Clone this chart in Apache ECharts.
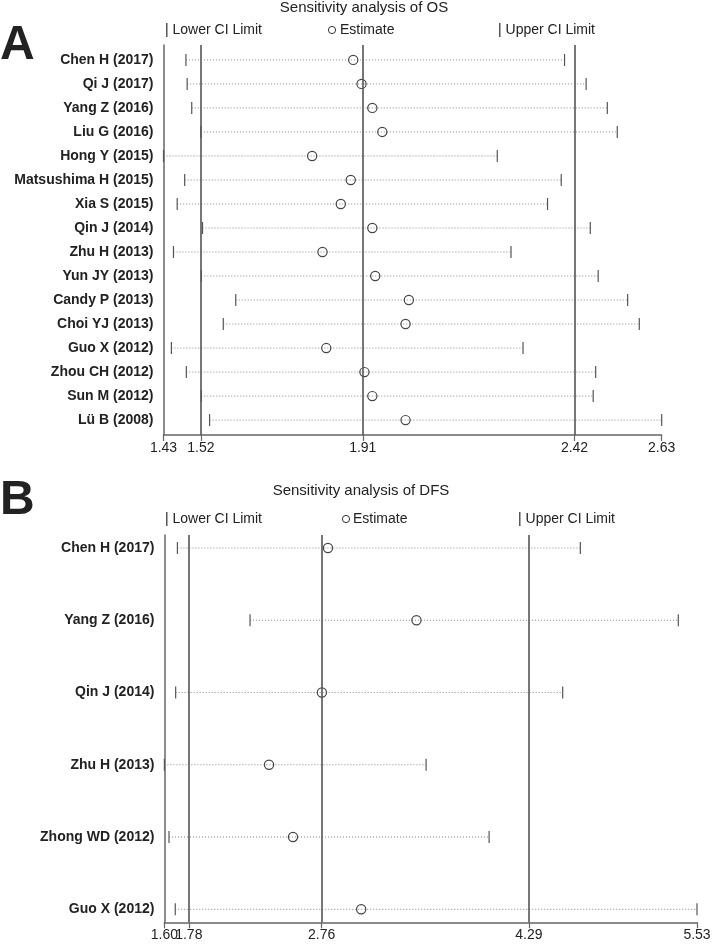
<!DOCTYPE html>
<html>
<head>
<meta charset="utf-8">
<script src="https://cdn.jsdelivr.net/npm/echarts@6/dist/echarts.min.js"></script>
<style>
html,body{margin:0;padding:0;background:#fff;}
#chart{width:716px;height:944px;}
</style>
</head>
<body>
<div id="chart"></div>
<script>
// ---- Panel A: OS ----
var osStudies = ['Chen H (2017)','Qi J (2017)','Yang Z (2016)','Liu G (2016)','Hong Y (2015)','Matsushima H (2015)','Xia S (2015)','Qin J (2014)','Zhu H (2013)','Yun JY (2013)','Candy P (2013)','Choi YJ (2013)','Guo X (2012)','Zhou CH (2012)','Sun M (2012)','Lü B (2008)'];
var osLower = [1.484,1.487,1.498,1.520,1.430,1.481,1.463,1.524,1.454,1.521,1.604,1.574,1.449,1.485,1.521,1.541];
var osEst   = [1.887,1.907,1.933,1.957,1.788,1.881,1.857,1.933,1.813,1.940,2.021,2.013,1.822,1.914,1.933,2.013];
var osUpper = [2.396,2.448,2.499,2.523,2.234,2.388,2.355,2.458,2.267,2.477,2.548,2.576,2.296,2.471,2.465,2.630];
var osOverall = [1.52, 1.91, 2.42];
var osTicks = [1.43, 1.52, 1.91, 2.42, 2.63];

// ---- Panel B: DFS ----
var dfsStudies = ['Chen H (2017)','Yang Z (2016)','Qin J (2014)','Zhu H (2013)','Zhong WD (2012)','Guo X (2012)'];
var dfsLower = [1.696,2.232,1.683,1.600,1.634,1.680];
var dfsEst   = [2.807,3.460,2.762,2.372,2.549,3.052];
var dfsUpper = [4.669,5.392,4.539,3.531,3.996,5.530];
var dfsOverall = [1.78, 2.76, 4.29];
var dfsTicks = [1.60, 1.78, 2.76, 4.29, 5.53];

var FONT = '"Liberation Sans", Arial, sans-serif';

function rows(lower, est, upper) {
  return lower.map(function (l, i) { return [i, l, est[i], upper[i]]; });
}

function renderCI(params, api) {
  var r = api.value(0);
  var p0 = api.coord([api.value(1), r]);
  var pe = api.coord([api.value(2), r]);
  var p1 = api.coord([api.value(3), r]);
  var h = 6;
  return {
    type: 'group',
    children: [
      { type: 'line', shape: { x1: p0[0], y1: p0[1], x2: p1[0], y2: p1[1] },
        style: { stroke: '#888', lineWidth: 1, lineDash: [1, 2] } },
      { type: 'line', shape: { x1: p0[0], y1: p0[1] - h, x2: p0[0], y2: p0[1] + h },
        style: { stroke: '#555', lineWidth: 1.2 } },
      { type: 'line', shape: { x1: p1[0], y1: p1[1] - h, x2: p1[0], y2: p1[1] + h },
        style: { stroke: '#555', lineWidth: 1.2 } },
      { type: 'circle', shape: { cx: pe[0], cy: pe[1], r: 4.6 },
        style: { fill: 'rgba(0,0,0,0)', stroke: '#444', lineWidth: 1.2 } }
    ]
  };
}

function fmt(v) { return Number(v).toFixed(2); }

// main x axis: line + all ticks + the given labels
function xAxisDef(gi, ticks, labels) {
  return {
    type: 'value', gridIndex: gi, position: 'bottom',
    min: ticks[0], max: ticks[ticks.length - 1],
    axisLine: { show: true, onZero: false, lineStyle: { color: '#666', width: 1.5 } },
    axisTick: { show: true, length: 6, customValues: ticks, lineStyle: { color: '#666', width: 1.2 } },
    axisLabel: { show: true, customValues: labels, margin: 6, color: '#222',
      fontSize: 14, fontFamily: FONT, hideOverlap: false, formatter: fmt },
    splitLine: { show: false }
  };
}
// label-only overlay axis (so touching labels are both kept)
function xLabelAxis(gi, ticks, labels) {
  return {
    type: 'value', gridIndex: gi, position: 'bottom',
    min: ticks[0], max: ticks[ticks.length - 1],
    axisLine: { show: false, onZero: false },
    axisTick: { show: false },
    axisLabel: { show: true, customValues: labels, margin: 6, color: '#222',
      fontSize: 14, fontFamily: FONT, formatter: fmt },
    splitLine: { show: false }
  };
}

function yAxisDef(gi, names, pad) {
  var idx = names.map(function (n, i) { return i; });
  return {
    type: 'value', gridIndex: gi, inverse: true, position: 'left',
    min: -pad, max: names.length - 1 + pad,
    axisLine: { show: true, onZero: false, lineStyle: { color: '#666', width: 1.5 } },
    axisTick: { show: false },
    axisLabel: { show: true, customValues: idx, margin: 10, color: '#222',
      fontSize: 14, fontWeight: 'bold', fontFamily: FONT, hideOverlap: false,
      formatter: function (v) { return names[Math.round(v)]; } },
    splitLine: { show: false }
  };
}

function markLines(vals) {
  return {
    silent: true, symbol: 'none', label: { show: false },
    lineStyle: { color: '#555', width: 1.6, type: 'solid' },
    data: vals.map(function (v) { return { xAxis: v }; })
  };
}

function txt(text, x, y, size, align, weight) {
  return { type: 'text', x: x, y: y,
    style: { text: text, fill: '#222', font: (weight || 'normal') + ' ' + size + 'px ' + FONT,
      textAlign: align || 'left', textVerticalAlign: 'middle' } };
}
function circ(cx, cy) {
  return { type: 'circle', shape: { cx: cx, cy: cy, r: 3.6 },
    style: { fill: 'rgba(0,0,0,0)', stroke: '#333', lineWidth: 1 } };
}

var chart = echarts.init(document.getElementById('chart'), null, { renderer: 'canvas' });
chart.setOption({
  backgroundColor: '#fff',
  animation: false,
  grid: [
    { left: 163.5, right: 54.3, top: 45, height: 390 },
    { left: 164.4, right: 19, top: 535, height: 387.3 }
  ],
  xAxis: [
    xAxisDef(0, osTicks, osTicks),
    xAxisDef(1, dfsTicks, dfsTicks.slice(1)),
    xLabelAxis(1, dfsTicks, dfsTicks.slice(0, 1))
  ],
  yAxis: [ yAxisDef(0, osStudies, 0.62), yAxisDef(1, dfsStudies, 0.18) ],
  series: [
    { type: 'custom', xAxisIndex: 0, yAxisIndex: 0, renderItem: renderCI,
      encode: { x: [1, 2, 3], y: 0 },
      data: rows(osLower, osEst, osUpper), markLine: markLines(osOverall), z: 3 },
    { type: 'custom', xAxisIndex: 1, yAxisIndex: 1, renderItem: renderCI,
      encode: { x: [1, 2, 3], y: 0 },
      data: rows(dfsLower, dfsEst, dfsUpper), markLine: markLines(dfsOverall), z: 3 }
  ],
  graphic: [
    txt('A', 0, 46, 48, 'left', 'bold'),
    txt('B', 0, 501, 48, 'left', 'bold'),
    txt('Sensitivity analysis of OS', 364, 8, 15, 'center'),
    txt('| Lower CI Limit', 165, 30, 14),
    circ(332, 30),
    txt('Estimate', 340, 30, 14),
    txt('| Upper CI Limit', 498, 30, 14),
    txt('Sensitivity analysis of DFS', 361, 491, 15, 'center'),
    txt('| Lower CI Limit', 165, 519, 14),
    circ(346, 519),
    txt('Estimate', 353, 519, 14),
    txt('| Upper CI Limit', 518, 519, 14)
  ]
});
</script>
</body>
</html>
